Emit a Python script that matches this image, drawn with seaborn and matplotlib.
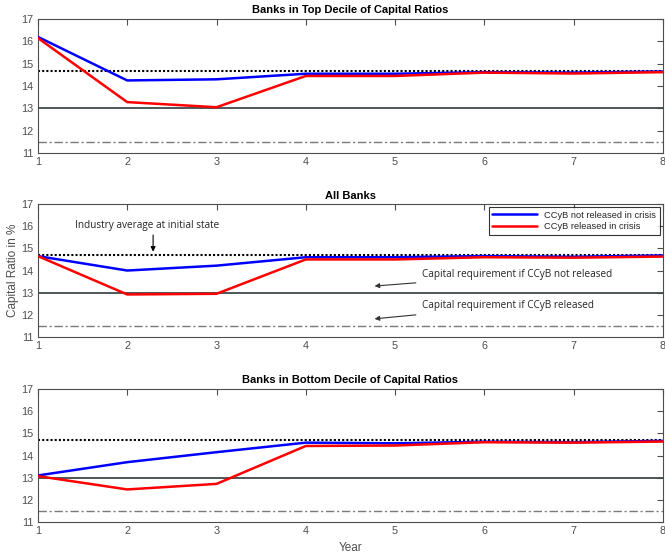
import matplotlib
matplotlib.use("Agg")
import matplotlib.pyplot as plt
import seaborn as sns
import pandas as pd
import numpy as np

years = [1, 2, 3, 4, 5, 6, 7, 8]
series_names = ["CCyB not released in crisis", "CCyB released in crisis"]
panel_titles = ["Banks in Top Decile of Capital Ratios", "All Banks",
                "Banks in Bottom Decile of Capital Ratios"]

top_not_released = [16.2, 14.25, 14.3, 14.55, 14.55, 14.62, 14.6, 14.65]
top_released = [16.15, 13.28, 13.05, 14.45, 14.45, 14.6, 14.56, 14.62]
all_not_released = [14.65, 14.0, 14.22, 14.6, 14.6, 14.65, 14.62, 14.68]
all_released = [14.65, 12.92, 12.95, 14.5, 14.5, 14.6, 14.58, 14.63]
bottom_not_released = [13.1, 13.7, 14.15, 14.58, 14.55, 14.62, 14.6, 14.66]
bottom_released = [13.07, 12.47, 12.72, 14.43, 14.45, 14.6, 14.58, 14.63]

industry_average = 14.68
req_not_released = 13.0
req_released = 11.5

yticks = [11, 12, 13, 14, 15, 16, 17]

panels = [(top_not_released, top_released),
          (all_not_released, all_released),
          (bottom_not_released, bottom_released)]

sns.set_theme(style="white")
plt.rcParams['font.family'] = ['Liberation Sans', 'DejaVu Sans']

fig = plt.figure(figsize=(6.65, 5.53), dpi=100)
positions = [(0.057, 0.7233, 0.94, 0.2423),
             (0.057, 0.3906, 0.94, 0.2404),
             (0.057, 0.056, 0.94, 0.2406)]
palette = {series_names[0]: "#0000ff", series_names[1]: "#ff0000"}
tick_color = "#4d4d4d"

axes = []
for i, (pos, (nr, rel)) in enumerate(zip(positions, panels)):
    ax = fig.add_axes(pos)
    axes.append(ax)
    df = pd.DataFrame({
        "Year": years * 2,
        "Ratio": nr + rel,
        "Scenario": [series_names[0]] * len(years) + [series_names[1]] * len(years),
    })
    ax.axhline(industry_average, color="black", linestyle=(0, (1, 1)), lw=1.5, zorder=1)
    ax.axhline(req_not_released, color="#3f4a4a", linestyle="-", lw=1.3, zorder=1)
    ax.axhline(req_released, color="#7a7a7a", linestyle=(0, (6, 2, 1.5, 2)), lw=1.0, zorder=1)
    sns.lineplot(data=df, x="Year", y="Ratio", hue="Scenario", palette=palette,
                 hue_order=series_names, lw=1.8, ax=ax, legend=(i == 1), zorder=3)
    ax.set_xlim(1, 8)
    ax.set_ylim(11, 17)
    ax.set_xticks(years)
    ax.set_yticks(yticks)
    ax.tick_params(direction="in", top=True, right=True, length=4, width=0.8,
                   labelsize=7.8, colors=tick_color, pad=3)
    for lab in ax.get_xticklabels() + ax.get_yticklabels():
        lab.set_color(tick_color)
    for sp in ax.spines.values():
        sp.set_color("#4d4d4d")
        sp.set_linewidth(0.8)
    ax.set_title(panel_titles[i], fontsize=8, fontweight="bold", pad=4, color="black")
    ax.set_xlabel("")
    ax.set_ylabel("")

ax = axes[1]
ax.set_ylabel("Capital Ratio in %", fontsize=8.5, color=tick_color, labelpad=2)
leg = ax.legend(loc="upper right", fontsize=6.7, frameon=True, fancybox=False,
                edgecolor="black", borderpad=0.4, handlelength=4.8,
                labelspacing=0.3, borderaxespad=0.3)
leg.get_frame().set_linewidth(0.8)
for line in leg.get_lines():
    line.set_linewidth(1.8)

ann_font = ['Open Sans', 'DejaVu Sans']
ax.text(2.22, 16.05, "Industry average at initial state", ha="center", va="center",
        fontsize=7.2, family=ann_font)
ax.annotate("", xy=(2.29, 14.85), xytext=(2.29, 15.6),
            arrowprops=dict(arrowstyle="-|>", color="black", lw=0.8,
                            shrinkA=0, shrinkB=0, mutation_scale=7))
ax.annotate("Capital requirement if CCyB not released", xy=(4.77, 13.3), xytext=(5.3, 13.8),
            ha="left", va="center", fontsize=7.2, family=ann_font,
            arrowprops=dict(arrowstyle="-|>", color="#333333", lw=0.8,
                            shrinkA=2, shrinkB=0, mutation_scale=7))
ax.annotate("Capital requirement if CCyB released", xy=(4.77, 11.82), xytext=(5.3, 12.4),
            ha="left", va="center", fontsize=7.2, family=ann_font,
            arrowprops=dict(arrowstyle="-|>", color="#333333", lw=0.8,
                            shrinkA=2, shrinkB=0, mutation_scale=7))

axes[2].set_xlabel("Year", fontsize=8.5, color=tick_color, labelpad=4)

fig.savefig("out.png", dpi=100)
